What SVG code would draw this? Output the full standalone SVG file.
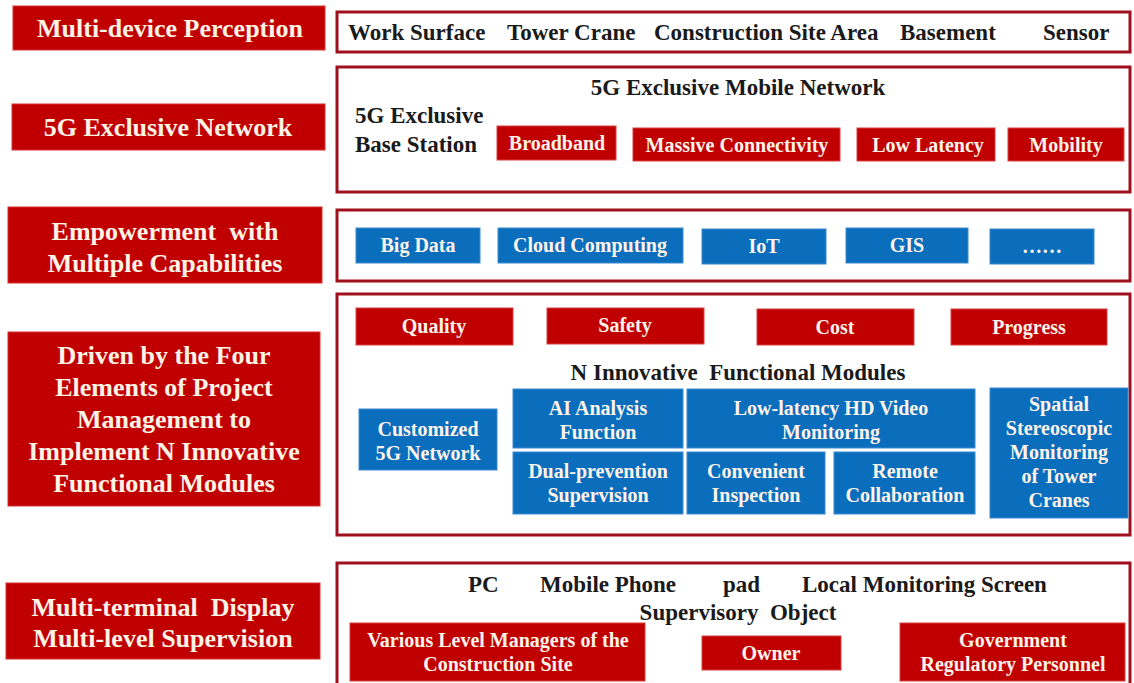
<svg xmlns="http://www.w3.org/2000/svg" width="1134" height="683" viewBox="0 0 1134 683">
<style>
.lb{fill:#c00000;stroke:#d83030;stroke-width:1}
.rb{fill:#fff;stroke:#a00f1c;stroke-width:3}
.red{fill:#c00000;stroke:#d84040;stroke-width:1}
.blue{fill:#0a6ebd;stroke:#3a8ad0;stroke-width:1}
.lt{fill:#fff3e6;font-size:26px;text-anchor:middle;font-weight:bold}
.bt{fill:#1a1a1a;font-size:23px;font-weight:bold}
.wt{fill:#fff3ea;font-size:20px;text-anchor:middle;font-weight:bold}
</style>
<rect width="1134" height="683" fill="#fff"/>
<g id="row1-left"><rect class="lb" x="13" y="6" width="312" height="44"/><text font-family="Liberation Serif" class="lt" x="170" y="37">Multi-device Perception</text></g>
<g id="row1-right"><rect class="rb" x="337" y="12" width="793" height="40"/>
<text font-family="Liberation Serif" class="bt" x="348" y="40">Work Surface</text><text font-family="Liberation Serif" class="bt" x="507" y="40">Tower Crane</text><text font-family="Liberation Serif" class="bt" x="654" y="40">Construction Site Area</text><text font-family="Liberation Serif" class="bt" x="900" y="40">Basement</text><text font-family="Liberation Serif" class="bt" x="1043" y="40">Sensor</text></g>
<g id="row2-left"><rect class="lb" x="12" y="104" width="313" height="46"/><text font-family="Liberation Serif" class="lt" x="168" y="136">5G Exclusive Network</text></g>
<g id="row2-right"><rect class="rb" x="337" y="67" width="793" height="125"/>
<text font-family="Liberation Serif" class="bt" x="738" y="95" text-anchor="middle">5G Exclusive Mobile Network</text>
<text font-family="Liberation Serif" class="bt" x="355" y="123">5G Exclusive</text><text font-family="Liberation Serif" class="bt" x="355" y="152">Base Station</text>
<rect class="red" x="497" y="126" width="119" height="34"/><text font-family="Liberation Serif" class="wt" x="557" y="150">Broadband</text>
<rect class="red" x="633" y="128" width="207" height="33"/><text font-family="Liberation Serif" class="wt" x="737" y="151.5">Massive Connectivity</text>
<rect class="red" x="857" y="128" width="138" height="33"/><text font-family="Liberation Serif" class="wt" x="928" y="151.5">Low Latency</text>
<rect class="red" x="1008" y="128" width="116" height="33"/><text font-family="Liberation Serif" class="wt" x="1066" y="151.5">Mobility</text></g>
<g id="row3-left"><rect class="lb" x="8" y="207" width="314" height="76"/><text font-family="Liberation Serif" class="lt" x="165" y="240" xml:space="preserve">Empowerment  with</text><text font-family="Liberation Serif" class="lt" x="165" y="272">Multiple Capabilities</text></g>
<g id="row3-right"><rect class="rb" x="337" y="210" width="793" height="71"/>
<rect class="blue" x="356" y="228" width="124" height="35"/><text font-family="Liberation Serif" class="wt" x="418" y="252">Big Data</text>
<rect class="blue" x="498" y="228" width="185" height="35"/><text font-family="Liberation Serif" class="wt" x="590" y="252">Cloud Computing</text>
<rect class="blue" x="702" y="229" width="124" height="35"/><text font-family="Liberation Serif" class="wt" x="764" y="253">IoT</text>
<rect class="blue" x="846" y="228" width="122" height="35"/><text font-family="Liberation Serif" class="wt" x="907" y="252">GIS</text>
<rect class="blue" x="990" y="229" width="104" height="35"/><text font-family="Liberation Serif" class="wt" x="1042" y="253" font-size="14">……</text></g>
<g id="row4-left"><rect class="lb" x="8" y="332" width="312" height="174"/>
<text font-family="Liberation Serif" class="lt" x="164" y="364">Driven by the Four</text><text font-family="Liberation Serif" class="lt" x="164" y="396">Elements of Project</text><text font-family="Liberation Serif" class="lt" x="164" y="428">Management to</text><text font-family="Liberation Serif" class="lt" x="164" y="460">Implement N Innovative</text><text font-family="Liberation Serif" class="lt" x="164" y="492">Functional Modules</text></g>
<g id="row4-right"><rect class="rb" x="337" y="294" width="793" height="241"/>
<rect class="red" x="356" y="308" width="157" height="37"/><text font-family="Liberation Serif" class="wt" x="434" y="333">Quality</text>
<rect class="red" x="547" y="308" width="157" height="36"/><text font-family="Liberation Serif" class="wt" x="625" y="332">Safety</text>
<rect class="red" x="757" y="309" width="157" height="36"/><text font-family="Liberation Serif" class="wt" x="835" y="334">Cost</text>
<rect class="red" x="951" y="309" width="156" height="36"/><text font-family="Liberation Serif" class="wt" x="1029" y="334">Progress</text>
<text font-family="Liberation Serif" class="bt" x="738" y="380" text-anchor="middle" xml:space="preserve">N Innovative  Functional Modules</text>
<rect class="blue" x="359" y="409" width="138" height="61"/><text font-family="Liberation Serif" class="wt" x="428" y="436">Customized</text><text font-family="Liberation Serif" class="wt" x="428" y="460">5G Network</text>
<rect class="blue" x="513" y="389" width="170" height="59"/><text font-family="Liberation Serif" class="wt" x="598" y="415">AI Analysis</text><text font-family="Liberation Serif" class="wt" x="598" y="439">Function</text>
<rect class="blue" x="687" y="389" width="288" height="59"/><text font-family="Liberation Serif" class="wt" x="831" y="415">Low-latency HD Video</text><text font-family="Liberation Serif" class="wt" x="831" y="439">Monitoring</text>
<rect class="blue" x="513" y="452" width="170" height="62"/><text font-family="Liberation Serif" class="wt" x="598" y="478">Dual-prevention</text><text font-family="Liberation Serif" class="wt" x="598" y="502">Supervision</text>
<rect class="blue" x="687" y="452" width="138" height="62"/><text font-family="Liberation Serif" class="wt" x="756" y="478">Convenient</text><text font-family="Liberation Serif" class="wt" x="756" y="502">Inspection</text>
<rect class="blue" x="834" y="452" width="141" height="62"/><text font-family="Liberation Serif" class="wt" x="905" y="478">Remote</text><text font-family="Liberation Serif" class="wt" x="905" y="502">Collaboration</text>
<rect class="blue" x="990" y="388" width="138" height="130"/><text font-family="Liberation Serif" class="wt" x="1059" y="411">Spatial</text><text font-family="Liberation Serif" class="wt" x="1059" y="435">Stereoscopic</text><text font-family="Liberation Serif" class="wt" x="1059" y="459">Monitoring</text><text font-family="Liberation Serif" class="wt" x="1059" y="483">of Tower</text><text font-family="Liberation Serif" class="wt" x="1059" y="507">Cranes</text></g>
<g id="row5-left"><rect class="lb" x="6" y="583" width="314" height="76"/><text font-family="Liberation Serif" class="lt" x="163" y="616" xml:space="preserve">Multi-terminal  Display</text><text font-family="Liberation Serif" class="lt" x="163" y="647">Multi-level Supervision</text></g>
<g id="row5-right"><rect class="rb" x="337" y="563" width="793" height="130"/>
<text font-family="Liberation Serif" class="bt" x="468" y="592">PC</text><text font-family="Liberation Serif" class="bt" x="540" y="592">Mobile Phone</text><text font-family="Liberation Serif" class="bt" x="723" y="592">pad</text><text font-family="Liberation Serif" class="bt" x="802" y="592">Local Monitoring Screen</text>
<text font-family="Liberation Serif" class="bt" x="738" y="620" text-anchor="middle" xml:space="preserve">Supervisory  Object</text>
<rect class="red" x="350" y="623" width="295" height="58"/><text font-family="Liberation Serif" class="wt" x="498" y="647">Various Level Managers of the</text><text font-family="Liberation Serif" class="wt" x="498" y="671">Construction Site</text>
<rect class="red" x="702" y="636" width="139" height="34"/><text font-family="Liberation Serif" class="wt" x="771" y="660">Owner</text>
<rect class="red" x="900" y="623" width="225" height="58"/><text font-family="Liberation Serif" class="wt" x="1013" y="647">Government</text><text font-family="Liberation Serif" class="wt" x="1013" y="671">Regulatory Personnel</text></g>
<g id="connectors"/>
</svg>
